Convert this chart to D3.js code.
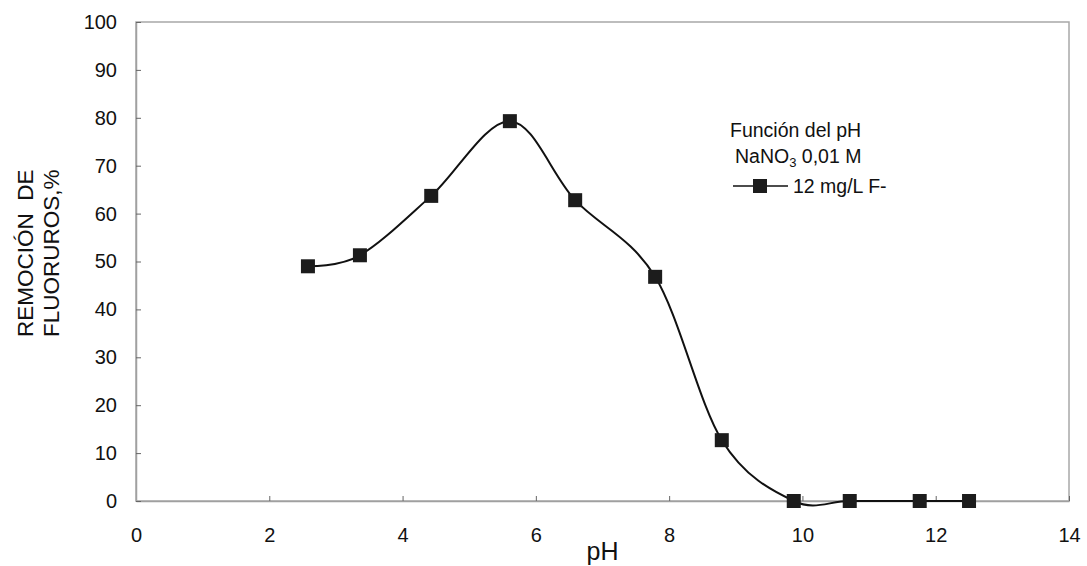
<!DOCTYPE html>
<html>
<head>
<meta charset="utf-8">
<script src="https://cdn.jsdelivr.net/npm/d3@7/dist/d3.min.js"></script>
<style>
  html, body { margin: 0; padding: 0; background: #fff; }
  text { font-family: "Liberation Sans", Arial, sans-serif; fill: #111; }
</style>
</head>
<body>
<svg id="chart" width="1087" height="566"></svg>
<script>
// Data
const pH = [2.58, 3.36, 4.43, 5.61, 6.59, 7.79, 8.79, 9.87, 10.71, 11.76, 12.50];
const removal = [49.0, 51.3, 63.7, 79.3, 62.8, 46.8, 12.7, 0, 0, 0, 0];
const xTicks = [0, 2, 4, 6, 8, 10, 12, 14];
const yTicks = [0, 10, 20, 30, 40, 50, 60, 70, 80, 90, 100];
const seriesName = "12 mg/L F-";
const legendTitle1 = "Función del pH";
const legendTitle2 = ["NaNO", "3", " 0,01 M"];
const xTitle = "pH";
const yTitle = ["REMOCIÓN  DE", "FLUORUROS,%"];

const svg = d3.select("#chart");
const L = 136, R = 1069, T = 22, B = 501;
const FONT = "'Liberation Sans', Arial, sans-serif";

const x = d3.scaleLinear().domain([0, 14]).range([L, R]);
const y = d3.scaleLinear().domain([0, 100]).range([B, T]);

// plot frame
svg.append("rect")
  .attr("x", L).attr("y", T).attr("width", R - L).attr("height", B - T)
  .attr("fill", "none").attr("stroke", "#a8a8a8").attr("stroke-width", 1.5);

// axes
const xAxis = d3.axisBottom(x).tickValues(xTicks).tickSizeInner(-5).tickSizeOuter(0).tickPadding(27);
const gx = svg.append("g").attr("transform", `translate(0,${B})`).call(xAxis);
gx.select(".domain").attr("stroke", "#a0a0a0").attr("stroke-width", 1.5);
gx.selectAll(".tick line").attr("stroke", "#666");
gx.selectAll(".tick text").attr("font-size", 20).attr("fill", "#111").attr("font-family", FONT);

const yAxis = d3.axisLeft(y).tickValues(yTicks).tickSizeInner(-5).tickSizeOuter(0).tickPadding(19);
const gy = svg.append("g").attr("transform", `translate(${L},0)`).call(yAxis);
gy.select(".domain").attr("stroke", "#a0a0a0").attr("stroke-width", 1.5);
gy.selectAll(".tick line").attr("stroke", "#666");
gy.selectAll(".tick text").attr("font-size", 20).attr("fill", "#111").attr("font-family", FONT);

// line
const data = pH.map((v, i) => [v, removal[i]]);
const line = d3.line().x(d => x(d[0])).y(d => y(d[1])).curve(d3.curveCatmullRom.alpha(0));
svg.append("path").datum(data).attr("d", line)
  .attr("fill", "none").attr("stroke", "#111").attr("stroke-width", 2);

// markers
const ms = 14;
svg.selectAll("rect.pt").data(data).join("rect").attr("class", "pt")
  .attr("x", d => x(d[0]) - ms / 2).attr("y", d => y(d[1]) - ms / 2)
  .attr("width", ms).attr("height", ms).attr("fill", "#1c1c1c");

// axis titles
svg.append("text").attr("x", (L + R) / 2).attr("y", 560).attr("text-anchor", "middle")
  .attr("font-size", 25).text(xTitle);

yTitle.forEach((t, i) => {
  svg.append("text")
    .attr("transform", `translate(${33 + i * 26},337) rotate(-90)`)
    .attr("text-anchor", "start").attr("font-size", 22.5)
    .style("white-space", "pre").text(t);
});

// legend
svg.append("text").attr("x", 730).attr("y", 137).attr("font-size", 19.5).text(legendTitle1);
const t2 = svg.append("text").attr("x", 735).attr("y", 163).attr("font-size", 19.5);
t2.append("tspan").text(legendTitle2[0]);
t2.append("tspan").attr("font-size", 13).attr("dy", 4).text(legendTitle2[1]);
t2.append("tspan").attr("dy", -4).text(legendTitle2[2]);

const ly = 186;
svg.append("line").attr("x1", 733).attr("x2", 788).attr("y1", ly).attr("y2", ly)
  .attr("stroke", "#111").attr("stroke-width", 1.5);
svg.append("rect").attr("x", 760 - 7).attr("y", ly - 7).attr("width", 14).attr("height", 14).attr("fill", "#1c1c1c");
svg.append("text").attr("x", 793).attr("y", ly + 7).attr("font-size", 19.5).text(seriesName);
</script>
</body>
</html>
